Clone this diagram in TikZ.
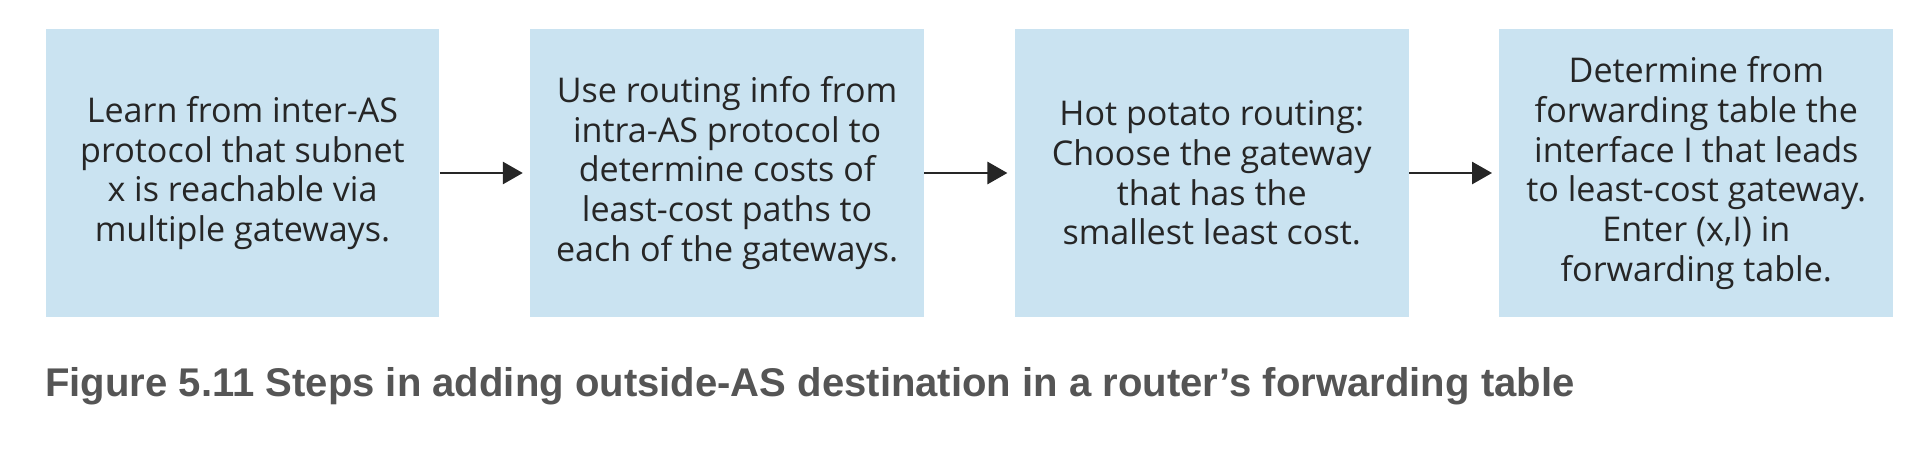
\documentclass[tikz,border=0pt]{standalone}
\usepackage{fontspec}
\usepackage{tikz}
\usetikzlibrary{positioning,arrows.meta}
\newfontfamily\boxfont{Open Sans}
\newfontfamily\capfont{Liberation Sans}
\definecolor{boxblue}{HTML}{CAE3F1}
\definecolor{boxtext}{HTML}{262626}
\definecolor{captext}{HTML}{555555}

\begin{document}
\begin{tikzpicture}[x=0.02cm,y=-0.02cm,
  stage/.style={fill=boxblue, minimum width=7.88cm, minimum height=5.76cm, inner sep=0pt,
    align=center, text=boxtext, font=\boxfont\fontsize{19.4}{22.6}\selectfont},
  flow/.style={-{Triangle[length=0.4cm,width=0.44cm]}, line width=1.6pt, black!85, shorten >=0.14cm}]

\useasboundingbox (0,0) rectangle (1929,450);

% steps
\node[stage] (learn) at (242.5,173) {Learn from inter-AS\\protocol that subnet\\x is reachable via\\multiple gateways.};
\node[stage, right=1.8cm of learn] (costs) {Use routing info from\\intra-AS protocol to\\determine costs of\\least-cost paths to\\each of the gateways.};
\node[stage, right=1.8cm of costs] (potato) {Hot potato routing:\\Choose the gateway\\that has the\\smallest least cost.};
\node[stage, right=1.8cm of potato] (enter) {Determine from\\forwarding table the\\interface I that leads\\to least-cost gateway.\\Enter (x,I) in\\forwarding table.};

% arrows
\foreach \a/\b in {learn/costs,costs/potato,potato/enter}
  \draw[flow] (\a) -- (\b);

% caption
\node[anchor=base west, inner sep=0pt, text=captext, font=\capfont\bfseries\fontsize{22.8}{27}\selectfont] (caption) at (45,396)
  {Figure 5.11 Steps in adding outside-AS destination in a router’s forwarding table};

\end{tikzpicture}
\end{document}
